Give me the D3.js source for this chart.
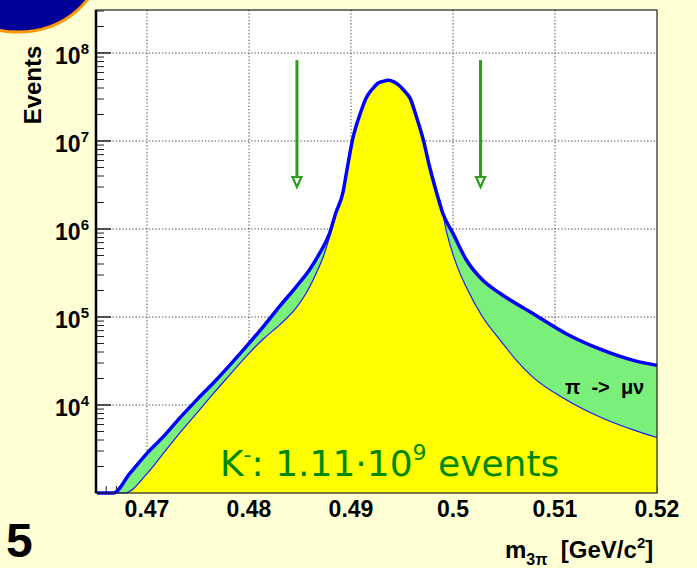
<!DOCTYPE html>
<html>
<head>
<meta charset="utf-8">
<script src="https://cdn.jsdelivr.net/npm/d3@7"></script>
<style>
  body { margin: 0; background: #ffffd6; }
  svg { display: block; }
</style>
</head>
<body>
<div id="chart"></div>
<script>
// K- -> 3pi invariant mass, log scale
const W = 697, H = 568;
const plot = {left: 96, right: 657, top: 10, bottom: 493};

// total (K3pi + pi->mu nu decays in flight)
const massTotal = [0.4651, 0.4667, 0.4683, 0.4700, 0.4716, 0.4732, 0.4749, 0.4765, 0.4781, 0.4797,
  0.4814, 0.4830, 0.4846, 0.4859, 0.4869, 0.4879, 0.4885, 0.4892, 0.4896, 0.4902, 0.4909, 0.4915,
  0.4921, 0.4926, 0.4932, 0.4937, 0.4942, 0.4947, 0.4952, 0.4958, 0.4964, 0.4971, 0.4977, 0.4984,
  0.4990, 0.5000, 0.5013, 0.5029, 0.5046, 0.5078, 0.5111, 0.5143, 0.5176, 0.5200];
const eventsTotal = [400, 1000, 1660, 2820, 4370, 7080, 11500, 17800, 28200, 45700,
  77600, 132000, 219000, 339000, 525000, 891000, 1510000, 2570000, 4680000, 11000000, 20400000, 31000000,
  39000000, 45000000, 47800000, 49000000, 47000000, 43000000, 37500000, 30500000, 19100000, 10200000, 5130000, 2570000,
  1510000, 891000, 447000, 263000, 186000, 110000, 64600, 43700, 32400, 28200];

// without pi -> mu nu
const massMain = [0.4651, 0.4678, 0.4700, 0.4716, 0.4732, 0.4749, 0.4765, 0.4781, 0.4797, 0.4814,
  0.4830, 0.4846, 0.4856, 0.4866, 0.4873, 0.4879, 0.4885, 0.4892, 0.4896, 0.4902, 0.4909, 0.4915,
  0.4921, 0.4926, 0.4932, 0.4937, 0.4942, 0.4947, 0.4952, 0.4958, 0.4964, 0.4971, 0.4977, 0.4984,
  0.4987, 0.4994, 0.5003, 0.5013, 0.5029, 0.5046, 0.5062, 0.5078, 0.5111, 0.5143, 0.5176, 0.5200];
const eventsMain = [300, 1000, 1660, 2820, 4790, 8130, 13500, 21900, 35500, 56200,
  81300, 126000, 186000, 316000, 490000, 813000, 1450000, 2450000, 4570000, 10800000, 20000000, 30500000,
  38500000, 44500000, 47300000, 48500000, 46500000, 42500000, 37000000, 30000000, 18700000, 10000000, 5000000, 2450000,
  2140000, 891000, 407000, 219000, 100000, 55000, 32400, 20900, 11500, 7410, 5250, 4270];

// mass cut arrows
const cutMass = [0.4847, 0.5027];
const arrowTop = 8.3e7, arrowTip = 3.0e6;

const xTicks = [0.47, 0.48, 0.49, 0.50, 0.51, 0.52];
const xTickLabels = ["0.47", "0.48", "0.49", "0.5", "0.51", "0.52"];
const yTicks = [1e4, 1e5, 1e6, 1e7, 1e8];
const yTickExp = ["4", "5", "6", "7", "8"];

const svg = d3.select("#chart").append("svg")
    .attr("width", W).attr("height", H);

svg.append("rect").attr("width", W).attr("height", H).attr("fill", "#ffffd6");

// logo, cut off at the corner
svg.append("ellipse")
    .attr("cx", 18).attr("cy", -42).attr("rx", 84).attr("ry", 74)
    .attr("fill", "#000099").attr("stroke", "#ff9900").attr("stroke-width", 3);

var x = d3.scaleLinear().domain([0.465, 0.52]).range([plot.left, plot.right]);
var y = d3.scaleLog().domain([1000, 3.08e8]).range([plot.bottom, plot.top]).clamp(true);

svg.append("rect")
    .attr("x", plot.left).attr("y", plot.top)
    .attr("width", plot.right - plot.left).attr("height", plot.bottom - plot.top)
    .attr("fill", "white");

// grid
svg.selectAll(".gx").data(xTicks.slice(0, 5)).enter().append("line")
    .attr("x1", d => x(d)).attr("x2", d => x(d))
    .attr("y1", plot.top).attr("y2", plot.bottom)
    .attr("stroke", "#444").attr("stroke-dasharray", "1.3,2").attr("stroke-width", 1);
svg.selectAll(".gy").data(yTicks).enter().append("line")
    .attr("x1", plot.left).attr("x2", plot.right)
    .attr("y1", d => y(d)).attr("y2", d => y(d))
    .attr("stroke", "#444").attr("stroke-dasharray", "1.3,2").attr("stroke-width", 1);

// y ticks (major + minor), inward
var minor = [];
for (let e = 3; e <= 8; e++) for (let k = 2; k <= 9; k++) if (k * Math.pow(10, e) < 3.08e8) minor.push(k * Math.pow(10, e));
svg.selectAll(".ymin").data(minor).enter().append("line")
    .attr("x1", plot.left).attr("x2", plot.left + 8)
    .attr("y1", d => y(d)).attr("y2", d => y(d))
    .attr("stroke", "#222").attr("stroke-width", 1);
svg.selectAll(".ymaj").data(yTicks).enter().append("line")
    .attr("x1", plot.left).attr("x2", plot.left + 15)
    .attr("y1", d => y(d)).attr("y2", d => y(d))
    .attr("stroke", "#222").attr("stroke-width", 1.5);

// x ticks, inward from bottom
svg.selectAll(".xmin").data(d3.range(0.466, 0.5201, 0.001)).enter().append("line")
    .attr("x1", d => x(d)).attr("x2", d => x(d))
    .attr("y1", plot.bottom).attr("y2", plot.bottom - 7)
    .attr("stroke", "#222").attr("stroke-width", 1);

var tot = massTotal.map((m, i) => [m, eventsTotal[i]]);
var main = massMain.map((m, i) => [m, eventsMain[i]]);

var area = d3.area().curve(d3.curveMonotoneX)
    .x(d => x(d[0])).y0(plot.bottom).y1(d => y(d[1]));
var line = d3.line().curve(d3.curveMonotoneX)
    .x(d => x(d[0])).y(d => y(d[1]));

svg.append("path").datum(tot).attr("d", area).attr("fill", "#7af07a");
svg.append("path").datum(main).attr("d", area).attr("fill", "#ffff00");
svg.append("path").datum(main).attr("d", line)
    .attr("fill", "none").attr("stroke", "#1a1aff").attr("stroke-width", 1.2);
svg.append("path").datum(tot).attr("d", line)
    .attr("fill", "none").attr("stroke", "#0000ff").attr("stroke-width", 3.5);

// cut arrows
var arrows = svg.selectAll(".arrow").data(cutMass).enter().append("g");
arrows.append("line")
    .attr("x1", d => x(d)).attr("x2", d => x(d))
    .attr("y1", y(arrowTop)).attr("y2", y(arrowTip) - 10)
    .attr("stroke", "#2e9e1e").attr("stroke-width", 3);
arrows.append("path")
    .attr("d", d => `M${x(d) - 4.5},${y(arrowTip) - 10} L${x(d) + 4.5},${y(arrowTip) - 10} L${x(d)},${y(arrowTip)} Z`)
    .attr("fill", "none").attr("stroke", "#2e9e1e").attr("stroke-width", 2.2);

// frame
svg.append("rect")
    .attr("x", plot.left).attr("y", plot.top)
    .attr("width", plot.right - plot.left).attr("height", plot.bottom - plot.top)
    .attr("fill", "none").attr("stroke", "#222").attr("stroke-width", 1.2);
svg.append("line").attr("x1", plot.left).attr("x2", plot.left)
    .attr("y1", plot.top).attr("y2", plot.bottom)
    .attr("stroke", "#000").attr("stroke-width", 2.5);

// y labels
var yl = svg.selectAll(".ylab").data(yTicks).enter().append("text")
    .attr("x", 89).attr("y", d => y(d) + 11)
    .attr("text-anchor", "end")
    .style("font-family", "Liberation Sans, Arial, sans-serif")
    .style("font-weight", "bold").style("font-size", "23px");
yl.append("tspan").text("10");
yl.append("tspan").attr("dy", -10).style("font-size", "15px").text((d, i) => yTickExp[i]);

// x labels
svg.selectAll(".xlab").data(xTicks).enter().append("text")
    .attr("x", d => x(d)).attr("y", 517)
    .attr("text-anchor", "middle")
    .style("font-family", "Liberation Sans, Arial, sans-serif")
    .style("font-weight", "bold").style("font-size", "23px")
    .text((d, i) => xTickLabels[i]);

// axis titles
svg.append("text")
    .attr("transform", "translate(41, 85) rotate(-90)")
    .attr("text-anchor", "middle")
    .style("font-family", "Liberation Sans, Arial, sans-serif")
    .style("font-weight", "bold").style("font-size", "24px")
    .text("Events");

var xt = svg.append("text")
    .attr("x", 505).attr("y", 558)
    .style("font-family", "Liberation Sans, Arial, sans-serif")
    .style("font-weight", "bold").style("font-size", "24px")
    .style("white-space", "pre");
xt.append("tspan").text("m");
xt.append("tspan").attr("dy", 7).style("font-size", "16px").text("3π");
xt.append("tspan").attr("dy", -7).text("  [GeV/c");
xt.append("tspan").attr("dy", -10).style("font-size", "15px").text("2");
xt.append("tspan").attr("dy", 10).text("]");

// labels inside
var kt = svg.append("text")
    .attr("x", 220).attr("y", 476)
    .attr("fill", "#008800")
    .style("font-family", "Comic Sans MS, DejaVu Sans, sans-serif")
    .style("font-size", "36px");
kt.append("tspan").text("K");
kt.append("tspan").attr("dy", -14).style("font-size", "22px").text("-");
kt.append("tspan").attr("dy", 14).text(": 1.11·10");
kt.append("tspan").attr("dy", -16).style("font-size", "22px").text("9");
kt.append("tspan").attr("dy", 16).text(" events");

svg.append("text")
    .attr("x", 565).attr("y", 394)
    .style("font-family", "Liberation Sans, Arial, sans-serif")
    .style("font-weight", "bold").style("font-size", "20px")
    .style("white-space", "pre")
    .text("π  ->  μν");

// cut-off page text
svg.append("text")
    .attr("x", 6).attr("y", 557)
    .style("font-family", "Liberation Sans, Arial, sans-serif")
    .style("font-weight", "bold").style("font-size", "48px")
    .text("5");
</script>
</body>
</html>
